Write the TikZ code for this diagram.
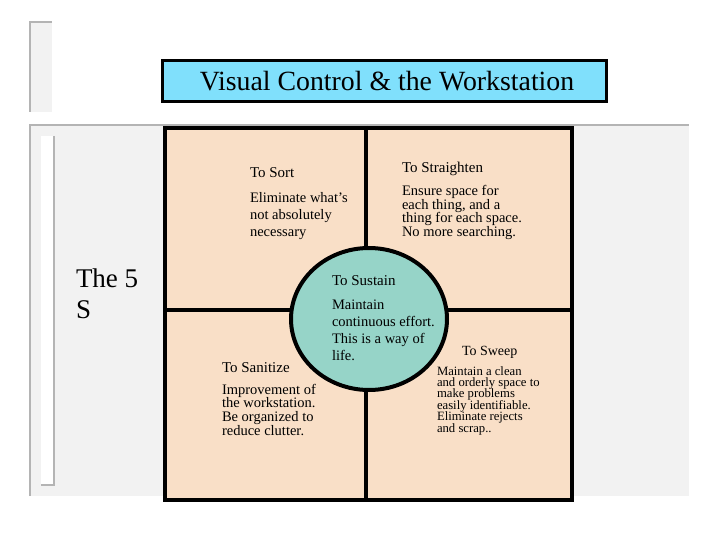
\documentclass[tikz,border=0pt]{standalone}
\usepackage{fontspec}
\usetikzlibrary{shapes.geometric}
\setmainfont{Liberation Serif}
\definecolor{peach}{RGB}{249,223,199}
\definecolor{teal5s}{RGB}{150,212,200}
\definecolor{titlecyan}{RGB}{128,224,252}
\definecolor{panelgray}{RGB}{242,242,242}
\definecolor{edgegray}{RGB}{180,180,180}
\newcommand\mylines[3]{\vtop{\fontsize{#1}{#2}\selectfont\baselineskip=#2\lineskiplimit=-30pt\lineskip=0pt #3}}
\begin{document}
\begin{tikzpicture}[x=1pt,y=-1pt,
  txt/.style={anchor=base west,inner sep=0pt,outer sep=0pt,align=left},
  grayedge/.style={draw=edgegray,line width=2pt},
  heavy/.style={draw=black,line width=4pt}]
\useasboundingbox (0,0) rectangle (720,540);
% top-left panel
\fill[panelgray] (29,22) rectangle (52,112);
\draw[grayedge] (29.5,112) -- (29.5,22.5) -- (52,22.5);
% lower panel
\fill[panelgray] (30,125) rectangle (689,496);
\draw[grayedge] (30,496) -- (30,125) -- (689,125);
\fill[white] (41,136) rectangle (54,485);
\draw[draw=edgegray,line width=1.5pt] (54,136) -- (54,485) -- (41,485);
% title
\node[draw=black,line width=3pt,fill=titlecyan,minimum width=444pt,minimum height=41pt,inner sep=0pt] (title) at (384,81.5) {};
\node[anchor=base,inner sep=0pt] (titletext) at (387,91) {\fontsize{27.8}{30}\selectfont Visual Control \& the Workstation};
% grid
\node[heavy,fill=peach,minimum width=407pt,minimum height=372pt,inner sep=0pt,anchor=north west] (grid) at (163,126) {};
\draw[heavy] (grid.north west) ++(203,0) coordinate (vtop) -- (vtop |- grid.south) coordinate (vbot);
\draw[heavy] (grid.west) ++(0,-4) coordinate (hl) -- (hl -| grid.east) coordinate (hr);
\node[heavy,fill=teal5s,ellipse,minimum width=156pt,minimum height=142pt,inner sep=0pt] (sustain) at (369,319) {};
% The 5 S
\node[txt] (fives) at (76,287) {\mylines{27}{32pt}{\hbox{The 5}\hbox{S}}};
% Sort
\node[txt] (sorth) at (250,178) {\fontsize{15}{17}\selectfont To Sort};
\node[txt] (sortb) at (250,203) {\mylines{14.5}{17pt}{\hbox{Eliminate what’s}\hbox{not absolutely}\hbox{necessary}}};
% Straighten
\node[txt] (strh) at (402,173) {\fontsize{15}{17}\selectfont To Straighten};
\node[txt] (strb) at (402,196) {\mylines{14.5}{13.5pt}{\hbox{Ensure space for}\hbox{each thing, and a}\hbox{thing for each space.}\hbox{No more searching.}}};
% Sustain
\node[txt] (sush) at (332,285) {\fontsize{15}{17}\selectfont To Sustain};
\node[txt] (susb) at (332,309) {\mylines{14.5}{17pt}{\hbox{Maintain}\hbox{continuous effort.}\hbox{This is a way of}\hbox{life.}}};
% Sanitize
\node[txt] (sanh) at (222,372) {\fontsize{15}{17}\selectfont To Sanitize};
\node[txt] (sanb) at (222,394) {\mylines{14.5}{13.7pt}{\hbox{Improvement of}\hbox{the workstation.}\hbox{Be organized to}\hbox{reduce clutter.}}};
% Sweep
\node[txt] (swph) at (462,355) {\fontsize{14}{16}\selectfont To Sweep};
\node[txt] (swpb) at (437,375) {\mylines{12.7}{11.4pt}{\hbox{Maintain a clean}\hbox{and orderly space to}\hbox{make problems}\hbox{easily identifiable.}\hbox{Eliminate rejects}\hbox{and scrap..}}};
\end{tikzpicture}
\end{document}
